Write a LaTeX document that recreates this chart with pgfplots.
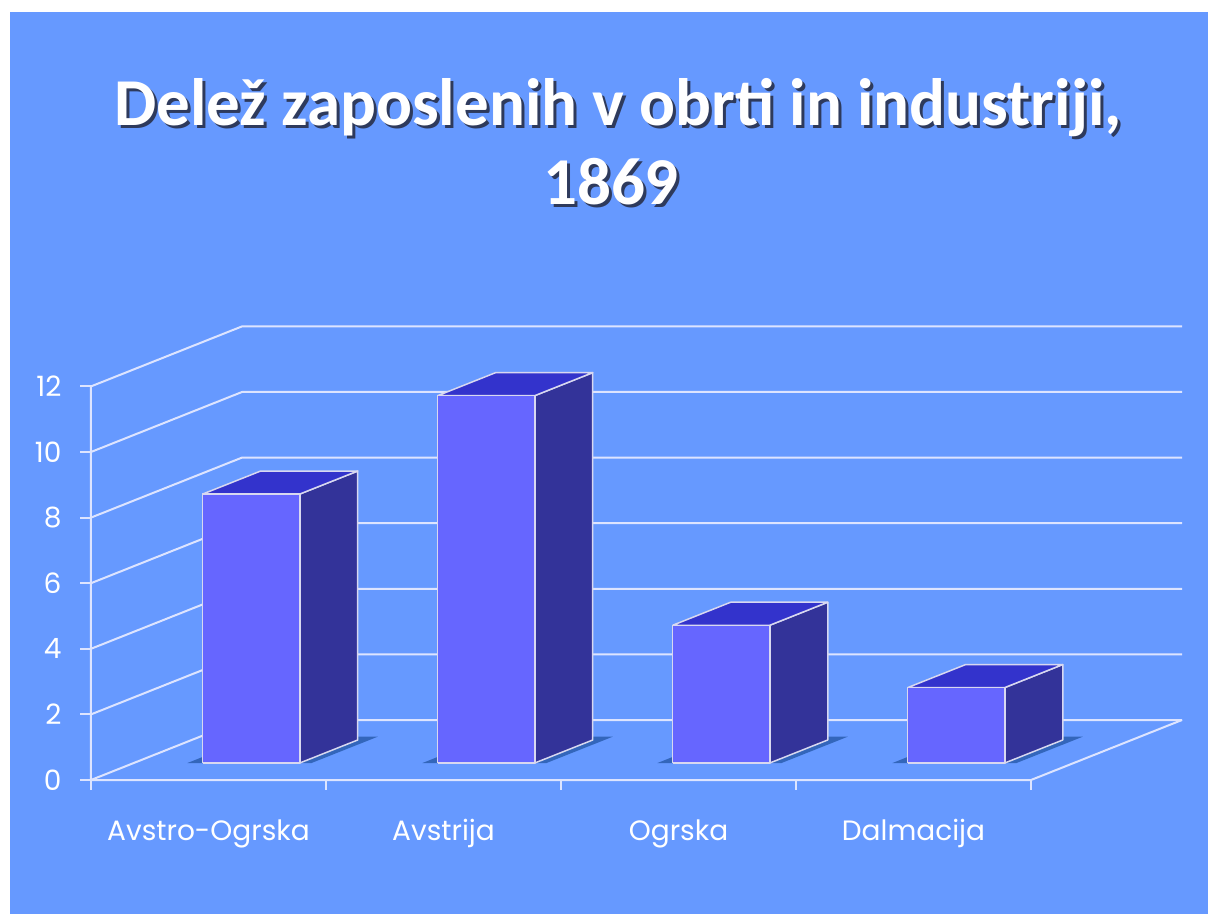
\documentclass[border=0pt]{standalone}
\usepackage{pgfplots}
\pgfplotsset{compat=1.18}
\usepackage{pgfplotstable}
\usepackage{fontspec}
\setmainfont{Poppins}
\newfontfamily\titlefont{Carlito}
\definecolor{bg}{HTML}{6699FF}
\definecolor{barfront}{HTML}{6666FF}
\definecolor{barside}{HTML}{333399}
\definecolor{bartop}{HTML}{3333CC}
\definecolor{shadowc}{HTML}{3366BB}
\definecolor{gridc}{HTML}{DDE4FF}
\definecolor{edgec}{HTML}{D8D8F0}
\definecolor{tshadow}{HTML}{2E3A5C}
\newcommand\shtext[1]{\makebox[0pt][l]{\hspace{3pt}\raisebox{-3pt}{\textcolor{tshadow}{#1}}}#1}
\pgfplotstableread{
idx value
0 8.2
1 11.2
2 4.2
3 2.3
}\datatable
\def\bw{0.2065}
\def\yf{0.283}
\def\yb{0.667}
\def\ys{0.723}
\begin{document}
\begin{tikzpicture}
\useasboundingbox (0,0) rectangle (1208pt,914pt);
\fill[white] (0,0) rectangle (1208pt,914pt);
\fill[bg] (10pt,0) rectangle (1208pt,902pt);
% title with shadow
\node[anchor=base, text=white, font=\titlefont\bfseries\fontsize{67}{67}\selectfont] at (618pt,788pt) {\shtext{Delež zaposlenih v obrti in industriji,}};
\node[anchor=base, text=white, font=\titlefont\bfseries\fontsize{67}{67}\selectfont] at (611pt,709pt) {\shtext{1869}};
\begin{axis}[
  at={(91pt,134pt)}, anchor=origin,
  x={(235pt,0pt)}, y={(151pt,60pt)}, z={(0pt,32.8pt)},
  xmin=0, xmax=4, ymin=0, ymax=1, zmin=0, zmax=12,
  clip=false,
  axis line style={draw=none},
  major tick length=0pt,
  xtick={0.5,1.5,2.5,3.5},
  xticklabels={Avstro-Ogrska,Avstrija,Ogrska,Dalmacija},
  ytick=\empty,
  ztick={0,2,...,12},
  /pgf/number format/assume math mode=true,
  ticklabel style={font=\fontsize{28}{28}\selectfont, text=white},
  xticklabel style={anchor=north, yshift=-36pt},
  zticklabel style={anchor=east, xshift=-26pt},
  gridl/.style={gridc, line width=2pt, mark=none},
]
% back and side wall grid lines
\pgfplotsinvokeforeach{0,2,...,12}{
  \addplot3[gridl] coordinates {(0,0,#1) (0,1,#1) (4,1,#1)};
}
% front axes and floor edges
\addplot3[gridl] coordinates {(0,0,12) (0,0,0) (4,0,0) (4,1,0)};
% tick marks
\addplot3[gridl, unbounded coords=jump] coordinates {
 (0,0,0) (0,0,-0.32) (nan,nan,nan)
 (1,0,0) (1,0,-0.32) (nan,nan,nan)
 (2,0,0) (2,0,-0.32) (nan,nan,nan)
 (3,0,0) (3,0,-0.32) (nan,nan,nan)
 (4,0,0) (4,0,-0.32) (nan,nan,nan)
 (0,0,0) (-0.047,0,0) (nan,nan,nan)
 (0,0,2) (-0.047,0,2) (nan,nan,nan)
 (0,0,4) (-0.047,0,4) (nan,nan,nan)
 (0,0,6) (-0.047,0,6) (nan,nan,nan)
 (0,0,8) (-0.047,0,8) (nan,nan,nan)
 (0,0,10) (-0.047,0,10) (nan,nan,nan)
 (0,0,12) (-0.047,0,12)
};
% bars
\pgfplotsforeachungrouped \i in {0,...,3}{
  \pgfplotstablegetelem{\i}{value}\of\datatable
  \let\v\pgfplotsretval
  \pgfmathsetmacro\xl{\i+0.5-\bw}
  \pgfmathsetmacro\xr{\i+0.5+\bw}
  \pgfmathsetmacro\sl{\i+0.5-\bw-0.065}
  \pgfmathsetmacro\sr{\i+0.5+\bw+0.05}
  \edef\tmp{%
    \noexpand\addplot3[fill=shadowc, draw=none, mark=none] coordinates {(\sl,\yf,0) (\sr,\yf,0) (\sr,\ys,0) (\sl,\ys,0) (\sl,\yf,0)};
    \noexpand\addplot3[fill=barside, draw=edgec, line width=1.5pt, mark=none, line join=round] coordinates {(\xr,\yf,0) (\xr,\yb,0) (\xr,\yb,\v) (\xr,\yf,\v) (\xr,\yf,0)};
    \noexpand\addplot3[fill=bartop, draw=edgec, line width=1.5pt, mark=none, line join=round] coordinates {(\xl,\yf,\v) (\xr,\yf,\v) (\xr,\yb,\v) (\xl,\yb,\v) (\xl,\yf,\v)};
    \noexpand\addplot3[fill=barfront, draw=edgec, line width=1.5pt, mark=none, line join=round] coordinates {(\xl,\yf,0) (\xr,\yf,0) (\xr,\yf,\v) (\xl,\yf,\v) (\xl,\yf,0)};
  }%
  \tmp
}
\end{axis}
\end{tikzpicture}
\end{document}
